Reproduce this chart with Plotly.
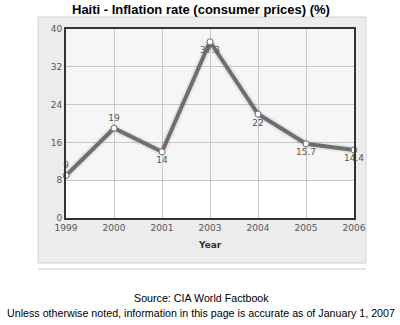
import plotly.graph_objects as go

years = ["1999", "2000", "2001", "2003", "2004", "2005", "2006"]
values = [9, 19, 14, 37.3, 22, 15.7, 14.4]
labels = ["9", "19", "14", "37.3", "22", "15.7", "14.4"]
label_pos = ["top center", "top center", "bottom center", "bottom center",
             "bottom center", "bottom center", "bottom center"]
y_ticks = [0, 8, 16, 24, 32, 40]

title = "Haiti - Inflation rate (consumer prices) (%)"
source = "Source: CIA World Factbook"
note = "Unless otherwise noted, information in this page is accurate as of January 1, 2007"

W, H = 400, 325
L, R, T, B = 66, 354, 29, 218

def px(x):
    return (x - L) / (R - L)

def py(y):
    return (B - y) / (B - T)

fig = go.Figure()

# soft shadow
fig.add_trace(go.Scatter(x=years, y=values, mode="lines",
                         line=dict(color="rgba(0,0,0,0.07)", width=8),
                         hoverinfo="skip", showlegend=False))
fig.add_trace(go.Scatter(
    x=years, y=values, mode="lines+markers+text",
    line=dict(color="#6e6e6e", width=4),
    marker=dict(symbol="circle", size=6, color="white",
                line=dict(color="#707070", width=1)),
    text=labels, textposition=label_pos,
    textfont=dict(family="DejaVu Sans", size=9, color="#555555"),
    showlegend=False, cliponaxis=False))

shapes = [
    dict(type="rect", xref="paper", yref="paper", layer="below",
         x0=px(38), x1=px(366), y0=py(263), y1=py(17),
         fillcolor="#ececec", line=dict(color="#d0d0d0", width=1)),
    dict(type="rect", xref="paper", yref="y", layer="below",
         x0=0, x1=1, y0=8, y1=40, fillcolor="#f6f6f6", line=dict(width=0)),
    dict(type="rect", xref="paper", yref="y", layer="below",
         x0=0, x1=1, y0=0, y1=8, fillcolor="#ffffff", line=dict(width=0)),
    dict(type="line", xref="paper", yref="paper",
         x0=px(38), x1=px(366), y0=py(269), y1=py(269),
         line=dict(color="#c8c8c8", width=1)),
]

annotations = [
    dict(text="<b>" + title + "</b>", xref="paper", yref="paper",
         x=px(201), y=py(9), showarrow=False,
         font=dict(family="Liberation Sans, Arial", size=13, color="#000000"),
         xanchor="center", yanchor="middle"),
    dict(text="<b>Year</b>", xref="paper", yref="paper",
         x=px(210), y=py(245), showarrow=False,
         font=dict(family="DejaVu Sans", size=9, color="#333333"),
         xanchor="center", yanchor="middle"),
    dict(text=source, xref="paper", yref="paper",
         x=px(201), y=py(298), showarrow=False,
         font=dict(family="Liberation Sans, Arial", size=10.7, color="#000000"),
         xanchor="center", yanchor="middle"),
    dict(text=note, xref="paper", yref="paper",
         x=px(201), y=py(313), showarrow=False,
         font=dict(family="Liberation Sans, Arial", size=10.7, color="#000000"),
         xanchor="center", yanchor="middle"),
]

fig.update_layout(
    width=W, height=H,
    margin=dict(l=L, r=W - R, t=T, b=H - B, pad=0),
    paper_bgcolor="white", plot_bgcolor="rgba(0,0,0,0)",
    shapes=shapes, annotations=annotations,
    xaxis=dict(type="category", range=[0, len(years) - 1],
               showgrid=True, gridcolor="#c8c8c8", gridwidth=1,
               showline=True, linecolor="#333333", linewidth=2, mirror=True,
               zeroline=False, ticks="",
               tickfont=dict(family="DejaVu Sans", size=9, color="#555555")),
    yaxis=dict(range=[0, 40], tickvals=y_ticks,
               showgrid=True, gridcolor="#c8c8c8", gridwidth=1,
               showline=True, linecolor="#333333", linewidth=2, mirror=True,
               zeroline=False, ticks="",
               tickfont=dict(family="DejaVu Sans", size=9, color="#555555")),
)

fig.write_html("out.html")
